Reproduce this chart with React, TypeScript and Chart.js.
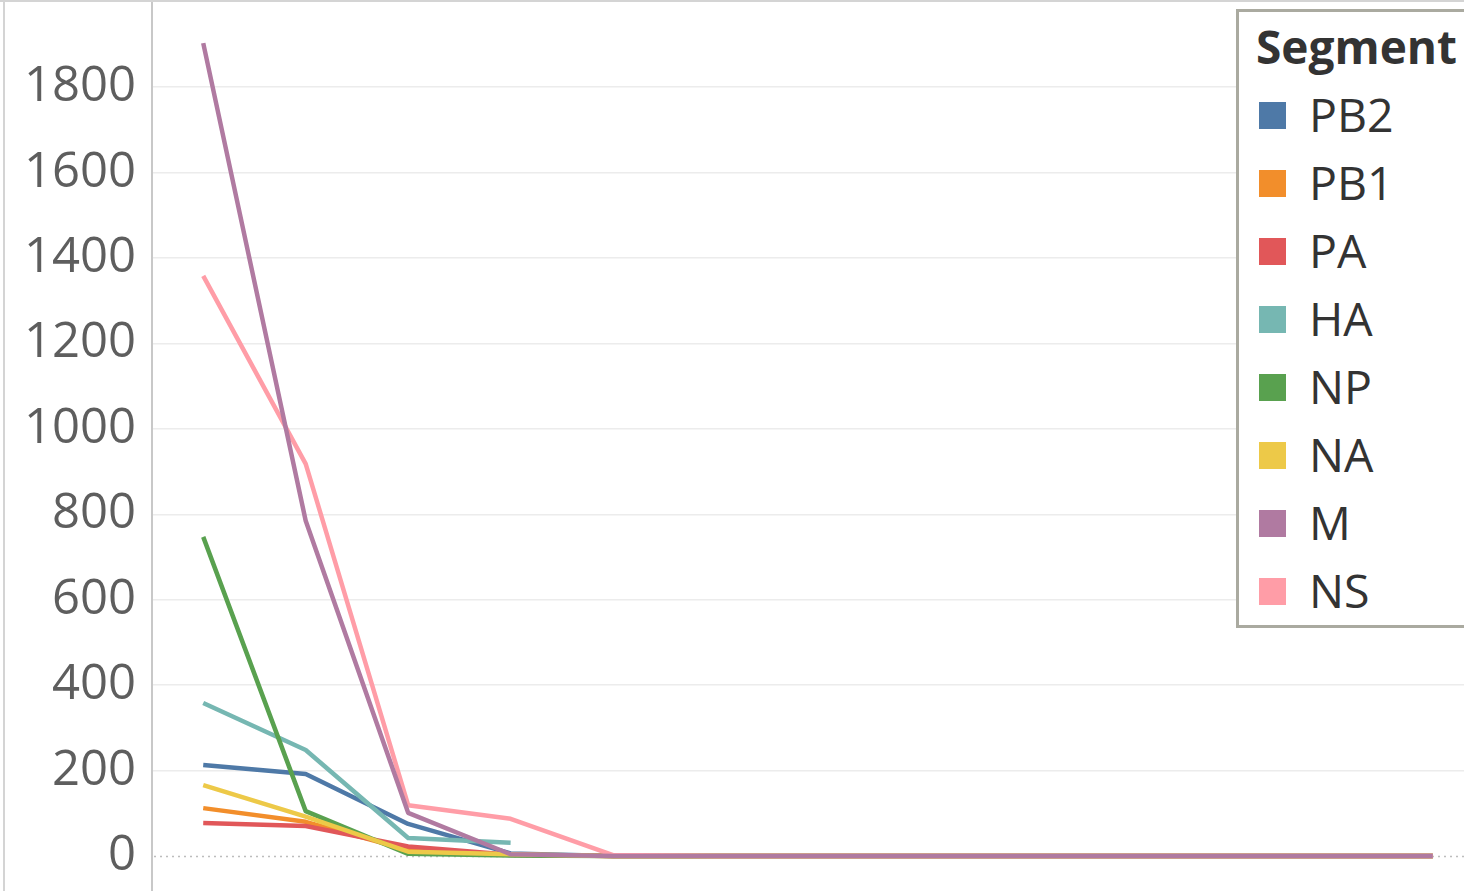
import React, { useEffect, useRef } from "react";
import { Chart, registerables } from "chart.js";

Chart.register(...registerables);

// Periods along the x axis (labels are not shown)
const periods = ["1", "2", "3", "4", "5", "6", "7", "8", "9", "10", "11", "12", "13"];

const segments = ["PB2", "PB1", "PA", "HA", "NP", "NA", "M", "NS"];
const segmentColors = ["#4e79a7", "#f28e2b", "#e15759", "#76b7b2", "#59a14f", "#edc948", "#b07aa1", "#ff9da7"];
// Lower number = drawn on top
const drawOrder = [7, 6, 5, 4, 3, 2, 0, 1];

const pb2 = [213, 192, 75, 6, 0, 0, 0, 0, 0, 0, 0, 0, 0];
const pb1 = [112, 80, 14, 2, 0, 0, 0, 0, 0, 0, 0, 0, 0];
const pa = [77, 70, 22, 3, 0, 0, 0, 0, 0, 0, 0, 0, 0];
const ha = [358, 248, 42, 31, null, null, null, null, null, null, null, null, null];
const np = [747, 105, 5, 1, 0, 0, 0, 0, 0, 0, 0, 0, 0];
const na = [166, 92, 10, 4, 0, 0, 0, 0, 0, 0, 0, 0, 0];
const m = [1903, 785, 101, 4, 0, 0, 0, 0, 0, 0, 0, 0, 0];
const ns = [1358, 918, 119, 87, 2, 0, 0, 0, 0, 0, 0, 0, 0];

const seriesValues = [pb2, pb1, pa, ha, np, na, m, ns];

const yTickValues = [0, 200, 400, 600, 800, 1000, 1200, 1400, 1600, 1800];
const yMin = -82;
const yMax = 2004;

const FONT = "'Open Sans', 'DejaVu Sans', sans-serif";

// Pane frame, and a dotted baseline at zero drawn beneath the lines
const framePlugin = {
  id: "frame",
  beforeDatasetsDraw(chart: any) {
    const { ctx, chartArea, scales } = chart;
    const y0 = Math.round(scales.y.getPixelForValue(0)) + 0.5;
    ctx.save();
    ctx.strokeStyle = "#bdbdbd";
    ctx.lineWidth = 1.5;
    ctx.setLineDash([2, 4]);
    ctx.beginPath();
    ctx.moveTo(chartArea.left + 2, y0);
    ctx.lineTo(chartArea.right, y0);
    ctx.stroke();
    ctx.restore();
  },
  afterDraw(chart: any) {
    const { ctx, height, width } = chart;
    ctx.save();
    ctx.fillStyle = "#d4d4d4";
    ctx.fillRect(0, 0, width, 2);
    ctx.fillRect(3, 0, 2, height);
    ctx.restore();
  },
};

function Legend() {
  return (
    <div
      style={{
        position: "absolute",
        left: 1236,
        top: 9,
        width: 260,
        height: 619,
        boxSizing: "border-box",
        border: "3px solid #aaaaa0",
        background: "#ffffff",
        fontFamily: FONT,
        color: "#333333",
      }}
    >
      <div
        style={{
          position: "absolute",
          left: 17,
          top: 3,
          fontSize: 46,
          fontWeight: 700,
          lineHeight: "62px",
          whiteSpace: "nowrap",
        }}
      >
        Segment
      </div>
      {segments.map((name, i) => (
        <React.Fragment key={name}>
          <div
            style={{
              position: "absolute",
              left: 20,
              top: 89.5 + i * 68,
              width: 27,
              height: 27,
              background: segmentColors[i],
            }}
          />
          <div
            style={{
              position: "absolute",
              left: 70,
              top: 71 + i * 68,
              fontSize: 46.5,
              lineHeight: "62px",
              whiteSpace: "nowrap",
            }}
          >
            {name}
          </div>
        </React.Fragment>
      ))}
    </div>
  );
}

export default function App() {
  const canvasRef = useRef<HTMLCanvasElement>(null);

  useEffect(() => {
    const canvas = canvasRef.current;
    if (!canvas) return;
    const chart = new Chart(canvas, {
      type: "line",
      data: {
        labels: periods,
        datasets: segments.map((name, i) => ({
          label: name,
          data: seriesValues[i],
          borderColor: segmentColors[i],
          backgroundColor: segmentColors[i],
          borderWidth: 4.5,
          pointRadius: 0,
          tension: 0,
          fill: false,
          spanGaps: false,
          borderJoinStyle: "round" as const,
          order: drawOrder[i],
        })),
      },
      options: {
        animation: false,
        responsive: false,
        maintainAspectRatio: false,
        layout: { padding: 0 },
        plugins: {
          legend: { display: false },
          tooltip: { enabled: false },
        },
        scales: {
          x: {
            display: false,
            offset: true,
          },
          y: {
            min: yMin,
            max: yMax,
            afterBuildTicks(scale: any) {
              scale.ticks = yTickValues.map((v) => ({ value: v }));
            },
            afterFit(scale: any) {
              scale.width = 152;
              scale.paddingTop = 0;
              scale.paddingBottom = 0;
            },
            border: { display: true, color: "#c8c8c8", width: 2 },
            grid: {
              drawTicks: false,
              lineWidth: 1.5,
              color: (ctx: any) => (ctx.tick && ctx.tick.value === 0 ? "rgba(0,0,0,0)" : "#ececec"),
            },
            ticks: {
              padding: 16,
              color: "#5e5e5e",
              font: { family: FONT, size: 49 },
              callback: (v: any) => String(v),
            },
          },
        },
      },
      plugins: [framePlugin],
    });
    return () => chart.destroy();
  }, []);

  return (
    <div
      style={{
        position: "fixed",
        left: 0,
        top: 0,
        width: 1464,
        height: 891,
        overflow: "hidden",
        background: "#ffffff",
      }}
    >
      <canvas ref={canvasRef} width={1484} height={891} style={{ display: "block" }} />
      <Legend />
    </div>
  );
}
